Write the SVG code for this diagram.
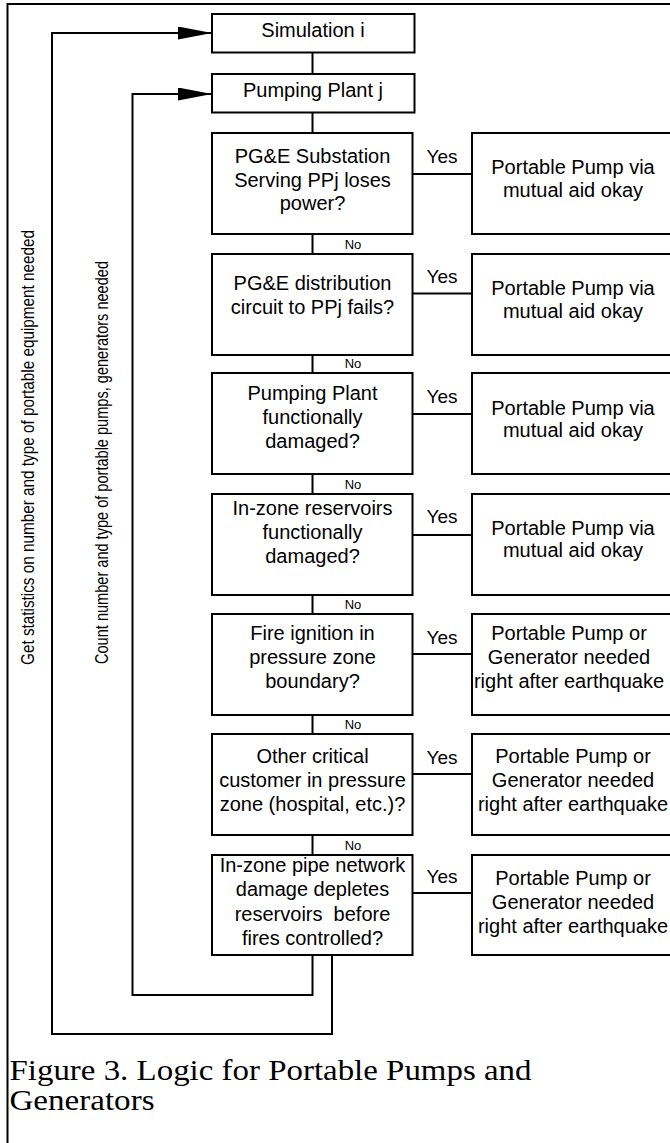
<svg xmlns="http://www.w3.org/2000/svg" width="670" height="1143" viewBox="0 0 670 1143">
<defs>
<style>
.box{fill:#fff;stroke:#000;stroke-width:2}
.ln{fill:none;stroke:#000;stroke-width:2}
.t{font-family:"Liberation Sans",Arial,sans-serif;font-size:20px;text-anchor:middle;fill:#000}
.y{font-family:"Liberation Sans",Arial,sans-serif;font-size:19px;text-anchor:middle;fill:#000}
.no{font-family:"Liberation Sans",Arial,sans-serif;font-size:13px;text-anchor:middle;fill:#000}
.v{font-family:"Liberation Sans",Arial,sans-serif;font-size:18.5px;text-anchor:middle;fill:#000}
.cap{font-family:"Liberation Serif","Times New Roman",serif;font-size:29px;fill:#000}
</style>
<marker id="ah" viewBox="0 0 34 13" refX="34" refY="6.5" markerWidth="34" markerHeight="13" markerUnits="userSpaceOnUse" orient="auto">
<path d="M0,0 L34,6.5 L0,13 z" fill="#000"/>
</marker>
</defs>
<rect width="670" height="1143" fill="#fff"/>
<path class="ln" d="M7.5,1145 V4 H672"/>

<g id="connectors">
<path class="ln" d="M312.5,52.5 V74 M312.5,112.5 V133 M312.5,234 V254 M312.5,355 V373 M312.5,474 V494 M312.5,595 V614 M312.5,715 V734 M312.5,835 V855"/>
<path class="ln" d="M412.5,174 H472 M412.5,293.5 H472 M412.5,414 H472 M412.5,535 H472 M412.5,654 H472 M412.5,774 H472 M412.5,893 H472"/>
<path class="ln" d="M312.5,955 V995 H132.5 V94 H212" marker-end="url(#ah)"/>
<path class="ln" d="M332,955 V1034 H52 V33 H212" marker-end="url(#ah)"/>
<text class="y" x="442" y="163.3">Yes</text>
<text class="y" x="442" y="283">Yes</text>
<text class="y" x="442" y="403">Yes</text>
<text class="y" x="442" y="523">Yes</text>
<text class="y" x="442" y="644">Yes</text>
<text class="y" x="442" y="764">Yes</text>
<text class="y" x="442" y="883">Yes</text>
<text class="no" x="353" y="249">No</text>
<text class="no" x="353" y="368">No</text>
<text class="no" x="353" y="489">No</text>
<text class="no" x="353" y="609">No</text>
<text class="no" x="353" y="729">No</text>
<text class="no" x="353" y="850">No</text>
<text class="v" transform="translate(34,447.5) rotate(-90)" textLength="435" lengthAdjust="spacingAndGlyphs">Get statistics on number and type of portable equipment needed</text>
<text class="v" transform="translate(108,462.5) rotate(-90)" textLength="403" lengthAdjust="spacingAndGlyphs">Count number and type of portable pumps, generators needed</text>
</g>

<g id="sim">
<rect class="box" x="212" y="14" width="202.5" height="38.5"/>
<text class="t" x="313" y="36.7">Simulation i</text>
</g>
<g id="plant">
<rect class="box" x="212" y="74" width="202.5" height="38.5"/>
<text class="t" x="313" y="96.7">Pumping Plant j</text>
</g>

<g id="q1">
<rect class="box" x="212" y="133" width="200.5" height="101"/>
<text class="t" x="312.5" y="163.3">PG&amp;E Substation</text>
<text class="t" x="312.5" y="186.8">Serving PPj loses</text>
<text class="t" x="312.5" y="210.3">power?</text>
</g>
<g id="r1">
<rect class="box" x="472" y="133" width="202" height="101"/>
<text class="t" x="573" y="174">Portable Pump via</text>
<text class="t" x="573" y="197">mutual aid okay</text>
</g>

<g id="q2">
<rect class="box" x="212" y="254" width="200.5" height="101"/>
<text class="t" x="312.5" y="290">PG&amp;E distribution</text>
<text class="t" x="312.5" y="313.5">circuit to PPj fails?</text>
</g>
<g id="r2">
<rect class="box" x="472" y="254" width="202" height="101"/>
<text class="t" x="573" y="295">Portable Pump via</text>
<text class="t" x="573" y="318">mutual aid okay</text>
</g>

<g id="q3">
<rect class="box" x="212" y="373" width="200.5" height="101"/>
<text class="t" x="312.5" y="400">Pumping Plant</text>
<text class="t" x="312.5" y="424">functionally</text>
<text class="t" x="312.5" y="448">damaged?</text>
</g>
<g id="r3">
<rect class="box" x="472" y="373" width="202" height="101"/>
<text class="t" x="573" y="415">Portable Pump via</text>
<text class="t" x="573" y="437">mutual aid okay</text>
</g>

<g id="q4">
<rect class="box" x="212" y="494" width="200.5" height="101"/>
<text class="t" x="312.5" y="515">In-zone reservoirs</text>
<text class="t" x="312.5" y="539">functionally</text>
<text class="t" x="312.5" y="563">damaged?</text>
</g>
<g id="r4">
<rect class="box" x="472" y="494" width="202" height="101"/>
<text class="t" x="573" y="535">Portable Pump via</text>
<text class="t" x="573" y="557">mutual aid okay</text>
</g>

<g id="q5">
<rect class="box" x="212" y="614" width="200.5" height="101"/>
<text class="t" x="312.5" y="640">Fire ignition in</text>
<text class="t" x="312.5" y="664">pressure zone</text>
<text class="t" x="312.5" y="688">boundary?</text>
</g>
<g id="r5">
<rect class="box" x="472" y="614" width="202" height="101"/>
<text class="t" x="569" y="640">Portable Pump or</text>
<text class="t" x="569" y="664">Generator needed</text>
<text class="t" x="569" y="688">right after earthquake</text>
</g>

<g id="q6">
<rect class="box" x="212" y="734" width="200.5" height="101"/>
<text class="t" x="312.5" y="762.7">Other critical</text>
<text class="t" x="312.5" y="786.7">customer in pressure</text>
<text class="t" x="312.5" y="810.7">zone (hospital, etc.)?</text>
</g>
<g id="r6">
<rect class="box" x="472" y="734" width="202" height="101"/>
<text class="t" x="573" y="762.7">Portable Pump or</text>
<text class="t" x="573" y="786.7">Generator needed</text>
<text class="t" x="573" y="810.7">right after earthquake</text>
</g>

<g id="q7">
<rect class="box" x="212" y="855" width="200.5" height="100"/>
<text class="t" x="312.5" y="871.7">In-zone pipe network</text>
<text class="t" x="312.5" y="896">damage depletes</text>
<text class="t" x="312.5" y="920.5" xml:space="preserve">reservoirs  before</text>
<text class="t" x="312.5" y="945">fires controlled?</text>
</g>
<g id="r7">
<rect class="box" x="472" y="855" width="202" height="100"/>
<text class="t" x="573" y="885">Portable Pump or</text>
<text class="t" x="573" y="909">Generator needed</text>
<text class="t" x="573" y="933">right after earthquake</text>
</g>

<g id="caption">
<text class="cap" x="9.5" y="1080" textLength="522" lengthAdjust="spacingAndGlyphs">Figure 3. Logic for Portable Pumps and</text>
<text class="cap" x="9.5" y="1110" textLength="145" lengthAdjust="spacingAndGlyphs">Generators</text>
</g>
</svg>
